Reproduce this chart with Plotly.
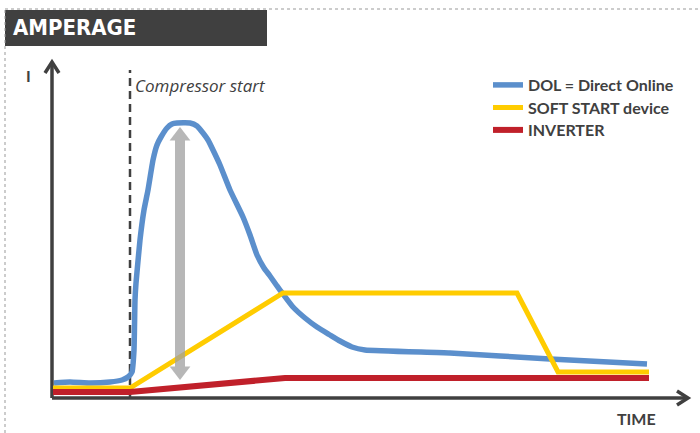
import plotly.graph_objects as go

# ---- data (time units, current units) ----
dol_t = [2, 18, 38, 58, 70, 76, 80, 82, 83, 84, 88, 92, 96, 101, 105, 109, 115, 120, 125, 138,
         145, 151, 156, 161, 168, 178, 191, 198, 205, 212, 218, 225, 231, 241, 253, 265, 278,
         288, 300, 313, 398, 498, 595]
dol_i = [15, 16, 15, 16, 18, 21, 26, 48, 98, 115, 158, 188, 208, 238, 253, 261, 270, 274, 275, 275,
         272, 265, 258, 248, 233, 208, 181, 163, 143, 130, 122, 112, 104, 91, 80, 71, 63,
         57, 51, 48, 45, 39, 34]
soft_t = [1, 78, 231, 465, 506, 597]
soft_i = [10, 10, 105, 105, 26, 26]
inv_t = [1, 78, 233, 597]
inv_i = [6, 6, 20, 20]

start_t = 78          # compressor start
arrow_t = 128         # peak arrow position
arrow_top = 271
arrow_bottom = 18

x_end = 636
y_end = 336

series_names = ["<b>DOL = Direct Online</b>", "<b>SOFT START device</b>", "<b>INVERTER</b>"]
colors = ["#5b8fcc", "#ffcc00", "#c0202a"]

W, H = 700, 433
X0, Y0 = 52, 398   # pixel position of the origin

fig = go.Figure()

# axes (drawn as lines)
AX = "#404040"
fig.add_trace(go.Scatter(x=[0, x_end], y=[0, 0], mode="lines",
                         line=dict(color=AX, width=3.5), showlegend=False, hoverinfo="skip"))
fig.add_trace(go.Scatter(x=[0, 0], y=[0, y_end], mode="lines",
                         line=dict(color=AX, width=3.5), showlegend=False, hoverinfo="skip"))
hw, hl = 7, 11
fig.add_trace(go.Scatter(x=[-hw, 0, hw], y=[y_end - hl, y_end, y_end - hl], mode="lines",
                         line=dict(color=AX, width=3.5), showlegend=False, hoverinfo="skip"))
fig.add_trace(go.Scatter(x=[x_end - hl, x_end, x_end - hl], y=[hw, 0, -hw], mode="lines",
                         line=dict(color=AX, width=3.5), showlegend=False, hoverinfo="skip"))

# compressor start dashed line
fig.add_trace(go.Scatter(x=[start_t, start_t], y=[0, 328], mode="lines",
                         line=dict(color=AX, width=2.5, dash="8px,5px"),
                         showlegend=False, hoverinfo="skip"))

# series
legends = ["legend", "legend2", "legend3"]
fig.add_trace(go.Scatter(x=dol_t, y=dol_i, mode="lines", name=series_names[0], legend=legends[0],
                         line=dict(color=colors[0], width=5.5, shape="spline", smoothing=0.4)))
fig.add_trace(go.Scatter(x=soft_t, y=soft_i, mode="lines", name=series_names[1], legend=legends[1],
                         line=dict(color=colors[1], width=5)))
fig.add_trace(go.Scatter(x=inv_t, y=inv_i, mode="lines", name=series_names[2], legend=legends[2],
                         line=dict(color=colors[2], width=6)))

# gray double arrow
msize = 18
fig.add_trace(go.Scatter(x=[arrow_t, arrow_t], y=[arrow_top - msize / 2, arrow_bottom + msize / 2],
                         mode="lines+markers",
                         line=dict(color="#a0a0a0", width=10),
                         marker=dict(symbol=["triangle-up", "triangle-down"], size=msize,
                                     color="#a0a0a0", line=dict(width=0)),
                         opacity=0.75, showlegend=False, hoverinfo="skip"))

shapes = [
    dict(type="rect", xref="paper", yref="paper", x0=5 / W, x1=267 / W,
         y0=1 - 46 / H, y1=1 - 10 / H, fillcolor="#404040", line=dict(width=0), layer="below"),
    dict(type="line", xref="paper", yref="paper", x0=5 / W, x1=1, y0=1 - 9 / H, y1=1 - 9 / H,
         line=dict(color="#999999", width=1, dash="dot")),
    dict(type="line", xref="paper", yref="paper", x0=5 / W, x1=5 / W, y0=0, y1=1 - 9 / H,
         line=dict(color="#999999", width=1, dash="dot")),
]

annotations = [
    dict(text="<b>AMPERAGE</b>", xref="paper", yref="paper", x=11 / W, y=1 - 28 / H,
         xanchor="left", yanchor="middle", showarrow=False,
         font=dict(family="Liberation Sans Narrow, DejaVu Sans Condensed, Roboto", size=22, color="white")),
    dict(text="<i>Compressor start</i>", xref="paper", yref="paper", x=133 / W, y=1 - 86 / H,
         xanchor="left", yanchor="middle", showarrow=False,
         font=dict(family="Open Sans", size=17, color="#404040")),
    dict(text="<b>I</b>", xref="paper", yref="paper", x=28 / W, y=1 - 76 / H,
         xanchor="center", yanchor="middle", showarrow=False,
         font=dict(family="Lato", size=16, color="#404040")),
    dict(text="<b>TIME</b>", xref="paper", yref="paper", x=636 / W, y=1 - 418 / H,
         xanchor="center", yanchor="middle", showarrow=False,
         font=dict(family="Lato", size=16, color="#404040")),
]

legend_tops = [68, 90.5, 113]
leg_style = dict(x=488 / W, xanchor="left", yanchor="top", bgcolor="rgba(0,0,0,0)",
                 itemwidth=30, font=dict(family="Lato", size=16, color="#404040"))

fig.update_layout(
    width=W, height=H,
    margin=dict(l=0, r=0, t=0, b=0),
    paper_bgcolor="white", plot_bgcolor="white",
    xaxis=dict(range=[-X0, W - X0], visible=False, fixedrange=True),
    yaxis=dict(range=[-(H - Y0), Y0], visible=False, fixedrange=True),
    shapes=shapes, annotations=annotations,
    legend=dict(y=1 - legend_tops[0] / H, **leg_style),
    legend2=dict(y=1 - legend_tops[1] / H, **leg_style),
    legend3=dict(y=1 - legend_tops[2] / H, **leg_style),
    showlegend=True,
)

fig.write_html("out.html", config={"displayModeBar": False},
               post_script="document.body.style.margin='0';document.body.style.overflow='hidden';")
